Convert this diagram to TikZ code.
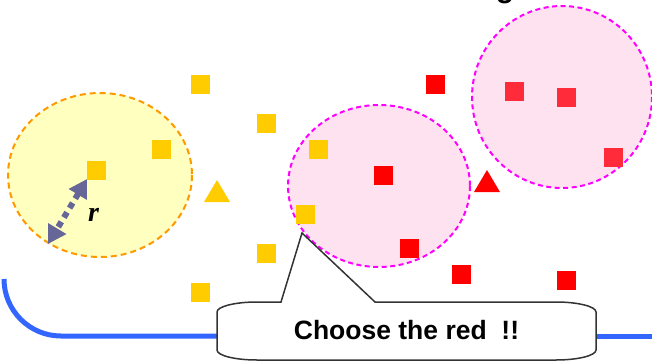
\documentclass[tikz,border=0pt]{standalone}
\usepackage{fontspec}
\setmainfont{Liberation Sans}
\newfontfamily\serifbi{Liberation Serif}
\usetikzlibrary{arrows.meta}

\definecolor{sqyellow}{HTML}{FFCC00}
\definecolor{ringyellow}{HTML}{FFFFC0}
\definecolor{ringorange}{HTML}{FF9900}
\definecolor{ringpink}{HTML}{FFE2F0}
\definecolor{ringmagenta}{HTML}{FF00FF}
\definecolor{sqred}{HTML}{FF0000}
\definecolor{sqredsoft}{HTML}{FF2A3A}
\definecolor{arrowslate}{HTML}{666699}
\definecolor{lineblue}{HTML}{3366FF}
\definecolor{calloutgray}{HTML}{333333}

\tikzset{
  ysq/.style={rectangle, fill=sqyellow, minimum size=19pt, inner sep=0pt},
  rsq/.style={rectangle, fill=sqred, minimum size=19pt, inner sep=0pt},
  rsqsoft/.style={rectangle, fill=sqredsoft, minimum size=19pt, inner sep=0pt},
  yring/.style={fill=ringyellow, draw=ringorange, line width=2pt, dash pattern=on 6pt off 4pt},
  pring/.style={fill=ringpink, draw=ringmagenta, line width=2pt, dash pattern=on 5pt off 3.5pt},
  radiusarrow/.style={draw=arrowslate, line width=6pt, dash pattern=on 6pt off 5pt,
    {Triangle[length=18pt,width=20pt,fill=arrowslate]}-{Triangle[length=18pt,width=20pt,fill=arrowslate]}},
  bluerule/.style={draw=lineblue, line width=5pt},
  calloutline/.style={draw=calloutgray, line width=1.5pt, fill=white, line join=miter},
}

\begin{document}
\begin{tikzpicture}[x=1pt, y=-1pt]
\useasboundingbox (0,0) rectangle (652,361);

% neighbourhood rings
\path[yring] (100,175) ellipse [x radius=92, y radius=82];
\path[pring] (379,186) ellipse [x radius=91, y radius=81];
\path[pring] (562,97) ellipse [x radius=90, y radius=91];

% heading descender peeking in at the top
\node[anchor=base, font=\bfseries\fontsize{30}{34}\selectfont, inner sep=0pt] (head) at (505,-2.5) {g};

% blue rule running under the callout
\coordinate (bl) at (217,336);
\coordinate (br) at (596,336);
\coordinate (be) at (656,336);
\draw[bluerule] (4,279) arc[start angle=180, end angle=90, radius=57] -- (bl);
\draw[bluerule] (br) -- (be);

% yellow class samples
\node[ysq] (y1) at (200.5,84.5) {};
\node[ysq] (y2) at (266.5,123.5) {};
\node[ysq] (y3) at (318.5,149.5) {};
\node[ysq] (y4) at (161.5,149.5) {};
\node[ysq] (y5) at (96.5,170.5) {};
\node[ysq] (y6) at (305.5,214.5) {};
\node[ysq] (y7) at (266.5,253.5) {};
\node[ysq] (y8) at (200.5,292.5) {};
\fill[sqyellow] (217,180) -- (230,202) -- (204,202) -- cycle;

% red class samples
\node[rsq] (r1) at (435.5,84.5) {};
\node[rsq] (r2) at (383.5,175.5) {};
\node[rsq] (r3) at (409.5,248.5) {};
\node[rsq] (r4) at (461.5,274.5) {};
\node[rsq] (r5) at (566.5,280.5) {};
\node[rsqsoft] (r6) at (514.5,91.5) {};
\node[rsqsoft] (r7) at (566.5,97.5) {};
\node[rsqsoft] (r8) at (613.5,157.5) {};
\fill[sqred] (487,170) -- (500,192) -- (474,192) -- cycle;

% radius marker
\coordinate (ra) at (87,179);
\coordinate (rb) at (48,244);
\draw[radiusarrow] (ra) -- (rb);
\node[font=\serifbi\bfseries\itshape\fontsize{28}{30}\selectfont, inner sep=0pt] (rlabel) at (93.5,215) {r};

% callout bubble
\draw[calloutline]
  (281,302) -- (302,233) -- (375,302) -- (556,302)
  .. controls (578,302) and (596,306.5) .. (596,312)
  -- (596,350)
  .. controls (596,355.5) and (578,360) .. (556,360)
  -- (257,360)
  .. controls (235,360) and (217,355.5) .. (217,350)
  -- (217,312)
  .. controls (217,306.5) and (235,302) .. (257,302)
  -- cycle;
\node[font=\bfseries\fontsize{26.5}{30}\selectfont, inner sep=0pt] (say) at (406.5,330) {Choose the red\ \ !!};
\end{tikzpicture}
\end{document}
